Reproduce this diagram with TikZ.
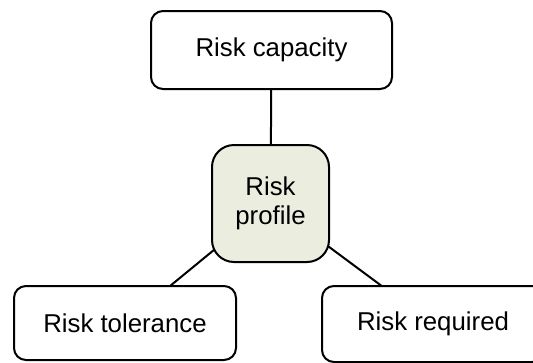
\documentclass[tikz,border=0pt]{standalone}
\usepackage{fontspec}
\setmainfont{Liberation Sans}
\usetikzlibrary{backgrounds}
\definecolor{profilefill}{HTML}{EBEEDF}
\begin{document}
\begin{tikzpicture}[x=1pt,y=-1pt,
  box/.style={draw=black, line width=2pt, fill=white, rounded corners=12pt, font=\fontsize{25.8}{29}\selectfont, inner sep=0pt, align=center},
  link/.style={draw=black, line width=2pt}]
  \useasboundingbox (0,0) rectangle (533,362);
  \clip (0,0) rectangle (533,362);
  \node[box, minimum width=241pt, minimum height=78pt] (cap) at (271.5,50) {Risk capacity};
  \node[box, fill=profilefill, rounded corners=22pt, minimum width=117pt, minimum height=117pt] (prof) at (270.5,203.5) {Risk\\profile};
  \node[box, minimum width=222pt, minimum height=74pt] (tol) at (125,323) {Risk tolerance};
  \node[box, minimum width=222pt, minimum height=76pt] (req) at (433,324) {Risk required};
  \begin{pgfonlayer}{background}
    \draw[link] (cap.center) -- (prof.center);
    \draw[link] (prof.center) -- (tol.center);
    \draw[link] (prof.center) -- (req.center);
  \end{pgfonlayer}
\end{tikzpicture}
\end{document}
